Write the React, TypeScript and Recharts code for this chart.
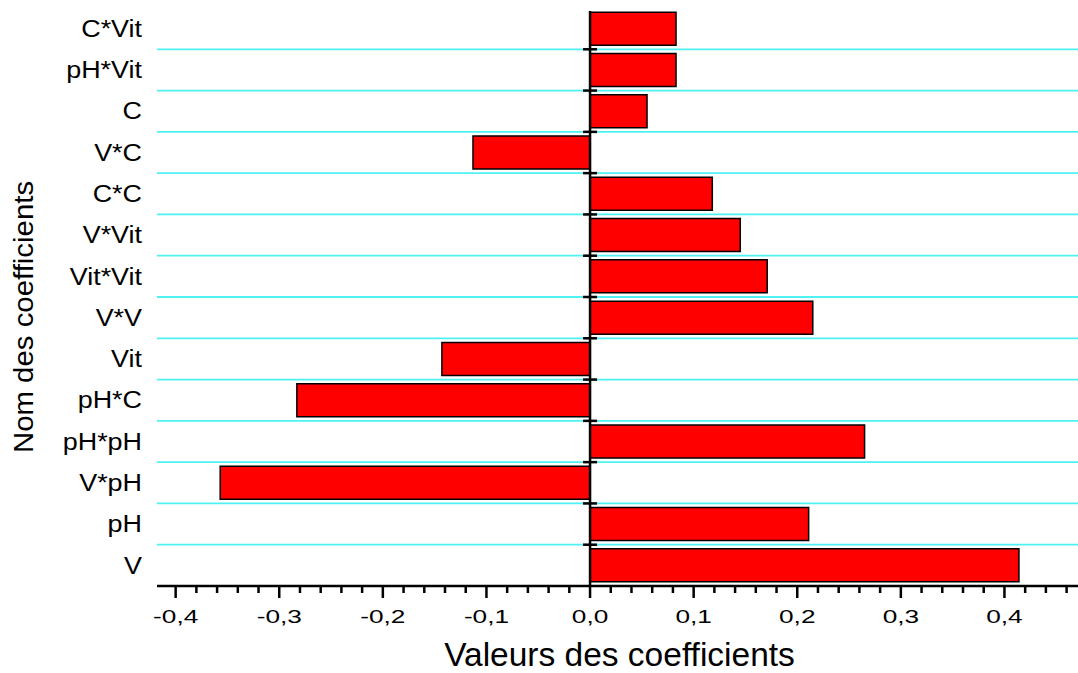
import { BarChart, Bar, XAxis, YAxis, CartesianGrid, ReferenceLine } from 'recharts';

// bottom to top, as in the figure
const CATEGORIES = ['V', 'pH', 'V*pH', 'pH*pH', 'pH*C', 'Vit', 'V*V', 'Vit*Vit', 'V*Vit', 'C*C', 'V*C', 'C', 'pH*Vit', 'C*Vit'];
const COEFFICIENTS = [0.414, 0.211, -0.357, 0.265, -0.283, -0.143, 0.215, 0.171, 0.145, 0.118, -0.113, 0.055, 0.083, 0.083];

const X_DOMAIN = [-0.418, 0.471];
const X_TICKS = [
  -0.4, -0.38, -0.36, -0.34, -0.32, -0.3, -0.28, -0.26, -0.24, -0.22,
  -0.2, -0.18, -0.16, -0.14, -0.12, -0.1, -0.08, -0.06, -0.04, -0.02,
  0, 0.02, 0.04, 0.06, 0.08, 0.1, 0.12, 0.14, 0.16, 0.18,
  0.2, 0.22, 0.24, 0.26, 0.28, 0.3, 0.32, 0.34, 0.36, 0.38,
  0.4, 0.42, 0.44, 0.46,
];

const X_TITLE = 'Valeurs des coefficients';
const Y_TITLE = 'Nom des coefficients';

const data = CATEGORIES.map((name, i) => ({ name, value: COEFFICIENTS[i] }));

const FONT = '"Liberation Sans", Arial, sans-serif';
const GRID = '#4ef2f2';

const isMajor = (v: number) => Math.round(v * 100) % 10 === 0;
const fmt = (v: number) => v.toFixed(1).replace('.', ',');

// the original text is wider than Arial, so stretch it horizontally
function XTick(props: any) {
  const { x, y, payload } = props;
  const major = isMajor(payload.value);
  return (
    <g>
      <line x1={x} x2={x} y1={y} y2={y + (major ? 12 : 7)} stroke="#000" strokeWidth={2.5} />
      {major && (
        <text transform={`translate(${x},${y + 37}) scale(1.38,1)`} textAnchor="middle" fontSize={19} fill="#000" fontFamily={FONT}>
          {fmt(payload.value)}
        </text>
      )}
    </g>
  );
}

function YTick(props: any) {
  const { x, y, payload } = props;
  return (
    <text transform={`translate(${x},${y}) scale(1.17,1)`} dy="0.36em" textAnchor="end" fontSize={23} fill="#000" fontFamily={FONT}>
      {payload.value}
    </text>
  );
}

// zero line with small marks at category boundaries
function ZeroLine(props: any) {
  const { x1, y1, y2 } = props;
  const top = Math.min(y1, y2);
  const bottom = Math.max(y1, y2);
  const n = CATEGORIES.length;
  const step = (bottom - top) / n;
  return (
    <g>
      <line x1={x1} x2={x1} y1={top + 3} y2={bottom} stroke="#000" strokeWidth={2.5} />
      {CATEGORIES.slice(1).map((_, i) => (
        <line key={i} x1={x1 - 7} x2={x1 + 7} y1={top + step * (i + 1)} y2={top + step * (i + 1)} stroke="#000" strokeWidth={2.5} />
      ))}
    </g>
  );
}

export default function App() {
  return (
    <div style={{ position: 'absolute', left: 0, top: 0, background: '#fff', fontFamily: FONT }}>
      <BarChart
        width={1078}
        height={673}
        data={data}
        layout="vertical"
        margin={{ top: 8, right: 0, bottom: 0, left: 0 }}
        barCategoryGap="10%"
      >
        <CartesianGrid
          vertical={false}
          stroke={GRID}
          strokeWidth={1.8}
          horizontalCoordinatesGenerator={({ offset }: any) =>
            CATEGORIES.slice(1).map((_, i) => offset.top + (offset.height * (i + 1)) / CATEGORIES.length)
          }
        />
        <XAxis
          type="number"
          domain={X_DOMAIN}
          allowDataOverflow
          ticks={X_TICKS}
          interval={0}
          height={87}
          tickSize={0}
          tickMargin={0}
          tickLine={false}
          axisLine={{ stroke: '#000', strokeWidth: 2.5 }}
          tick={<XTick />}
          label={{
            content: (p: any) => {
              const vb = p.viewBox;
              return (
                <text x={vb.x + vb.width / 2 + 2} y={666} textAnchor="middle" fontSize={33.5} fill="#000" fontFamily={FONT}>
                  {X_TITLE}
                </text>
              );
            },
          }}
        />
        <YAxis
          type="category"
          dataKey="name"
          reversed
          width={157}
          interval={0}
          tickSize={0}
          tickMargin={15}
          tickLine={false}
          axisLine={false}
          tick={<YTick />}
          label={{
            content: () => (
              <text transform="translate(33,317) rotate(-90) scale(1.05,1)" textAnchor="middle" fontSize={28} fill="#000" fontFamily={FONT}>
                {Y_TITLE}
              </text>
            ),
          }}
        />
        <Bar dataKey="value" fill="#ff0000" stroke="#000" strokeWidth={1.5} isAnimationActive={false} />
        <ReferenceLine x={0} shape={<ZeroLine />} />
      </BarChart>
    </div>
  );
}
